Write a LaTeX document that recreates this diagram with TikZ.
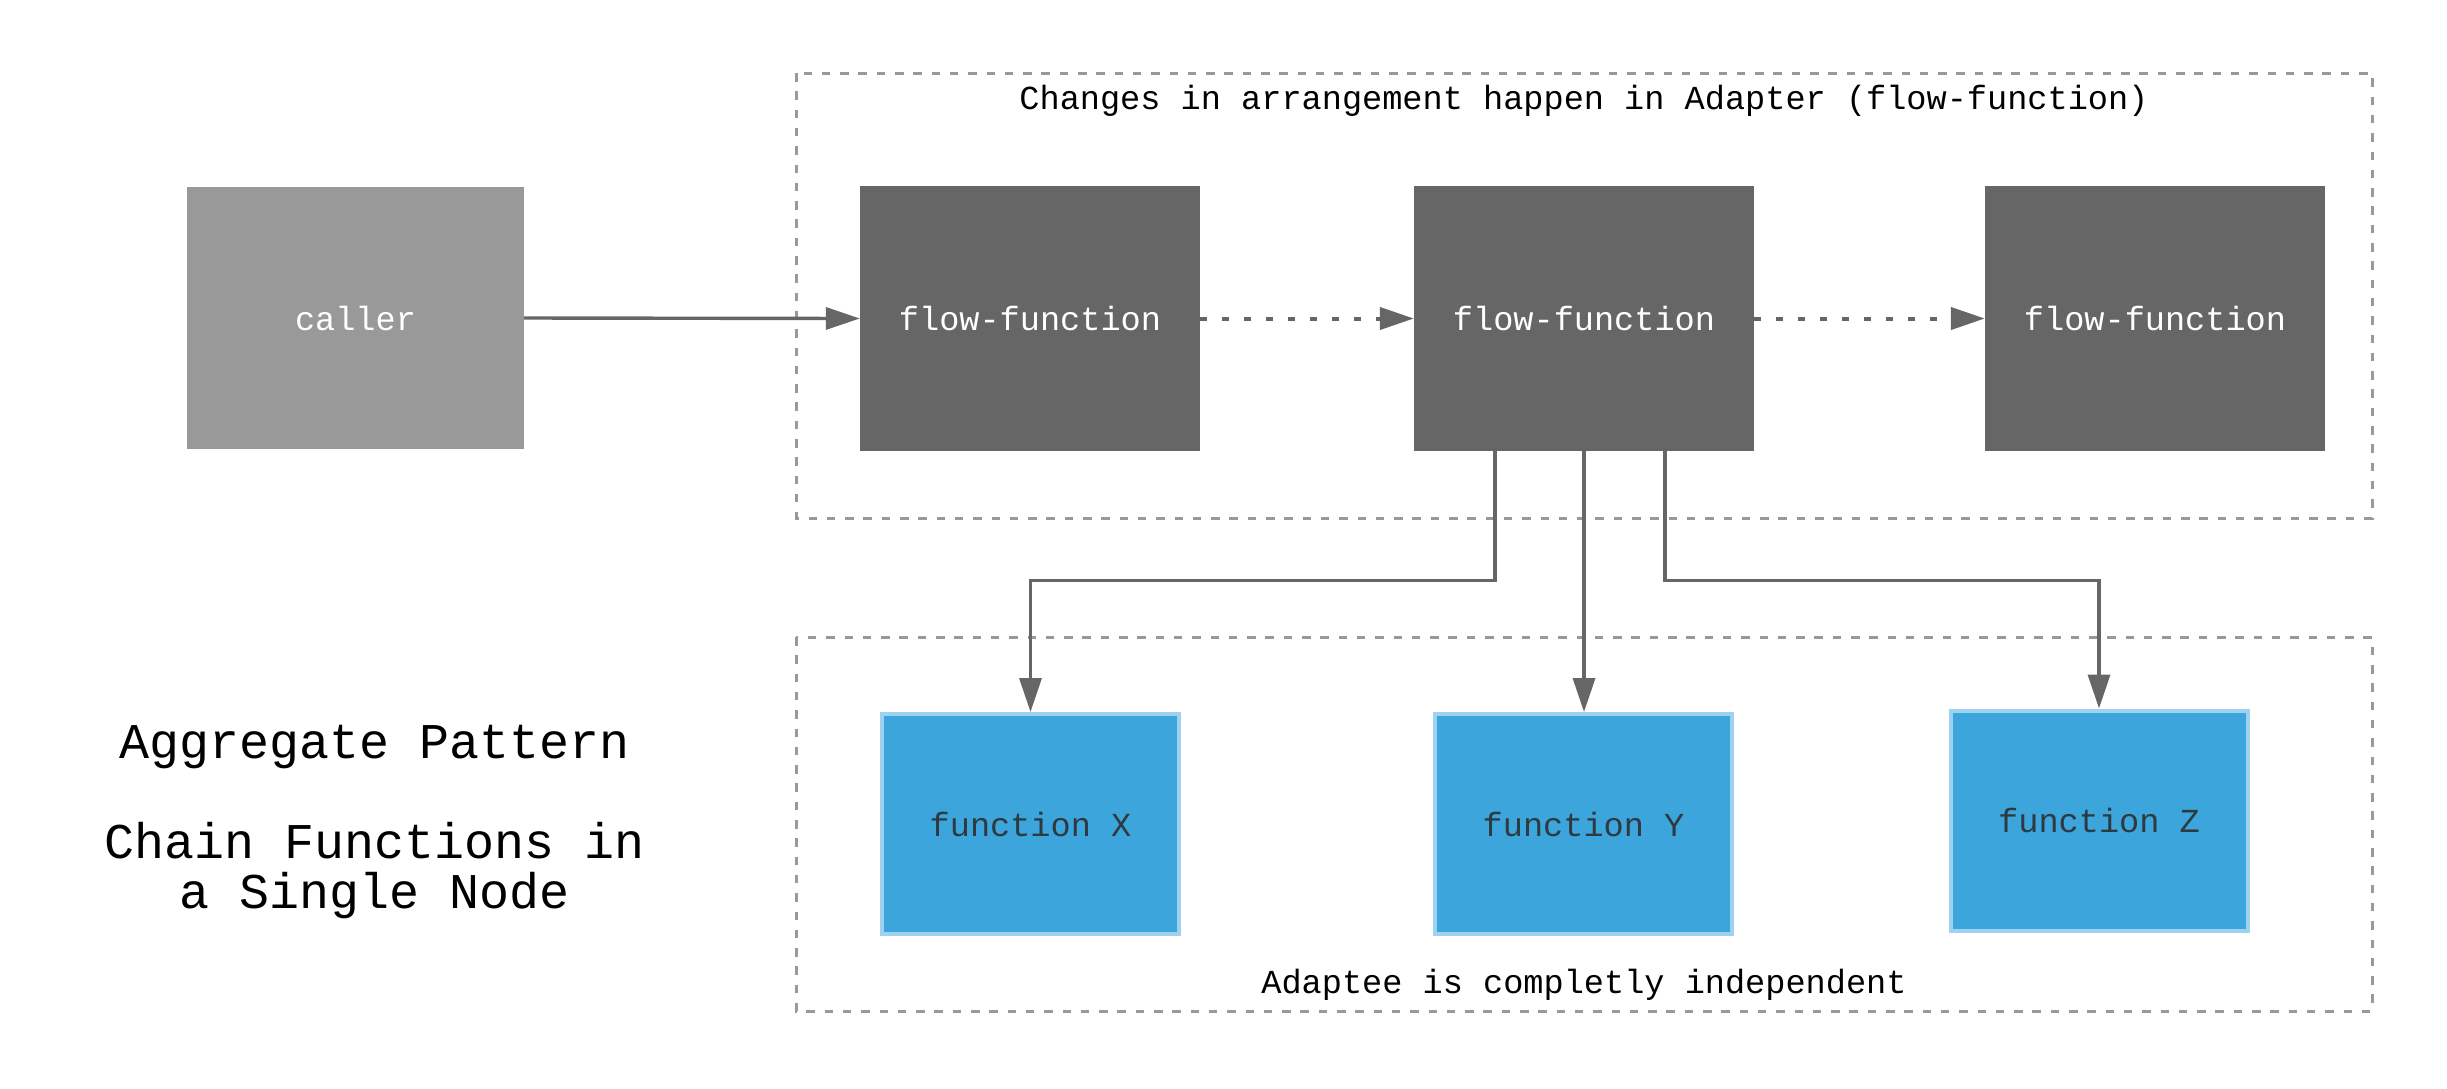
\documentclass[tikz,border=0pt]{standalone}
\usepackage{fontspec}
\setmainfont{Liberation Mono}
\usetikzlibrary{arrows.meta}
\definecolor{darkbox}{HTML}{666666}
\definecolor{lightbox}{HTML}{999999}
\definecolor{bluefill}{HTML}{3BA5DC}
\definecolor{blueedge}{HTML}{9DD3F0}
\definecolor{linegray}{HTML}{666666}
\definecolor{dashgray}{HTML}{999999}
\definecolor{bluetext}{HTML}{2E3A40}
\tikzset{
  midfont/.style={font=\fontsize{33.6}{40}\selectfont},
  ffbox/.style={midfont, fill=darkbox, text=white, minimum width=340pt, minimum height=265pt, inner sep=0pt},
  callerbox/.style={midfont, fill=lightbox, text=white, minimum width=337pt, minimum height=262pt, inner sep=0pt},
  fnbox/.style={midfont, fill=bluefill, draw=blueedge, line width=4pt, text=bluetext, minimum width=297pt, minimum height=220pt, inner sep=0pt},
  groupbox/.style={draw=dashgray, line width=3pt, dash pattern=on 8.5pt off 9.8pt},
  arr/.style={draw=linegray, line width=3.4pt, -{Triangle[length=34pt,width=22pt]}},
  dotarr/.style={arr, line width=4pt, dash pattern=on 7pt off 15pt},
  lbl/.style={midfont, text=black, inner sep=0pt}
}
\begin{document}
\begin{tikzpicture}[x=1pt,y=-1pt]
\useasboundingbox (0,0) rectangle (2447,1088);
\fill[white] (0,0) rectangle (2447,1088);
% group boxes
\draw[groupbox] (796,73) rectangle (2372,518);
\draw[groupbox] (796,637) rectangle (2372,1011);
\node[lbl] (toplbl) at (1584,101) {Changes in arrangement happen in Adapter (flow-function)};
\node[lbl] (botlbl) at (1584,985) {Adaptee is completly independent};
% nodes
\node[callerbox] (caller) at (355.5,318) {caller};
\node[ffbox] (ff1) at (1030,318.5) {flow-function};
\node[ffbox] (ff2) at (1584,318.5) {flow-function};
\node[ffbox] (ff3) at (2155,318.5) {flow-function};
\node[fnbox] (fx) at (1030.5,824) {function X};
\node[fnbox] (fy) at (1583.5,824) {function Y};
\node[fnbox] (fz) at (2099,820.5) {function Z};
\node[inner sep=0pt, align=center, font=\fontsize{50}{50}\selectfont] (title) at (375,822)
  {Aggregate Pattern\\[0pt]\mbox{}\\Chain Functions in\\a Single Node};
% connectors
\draw[arr] (caller.east) -- (ff1.west);
\draw[dotarr] (ff1.east) -- (ff2.west);
\draw[dotarr] (ff2.east) -- (ff3.west);
\draw[arr] ([xshift=-89pt]ff2.south) -- ++(0,129) -| (fx.north);
\draw[arr] (ff2.south) -- (ff2.south |- fy.north);
\draw[arr] ([xshift=81pt]ff2.south) -- ++(0,129) -| (fz.north);
\end{tikzpicture}
\end{document}
